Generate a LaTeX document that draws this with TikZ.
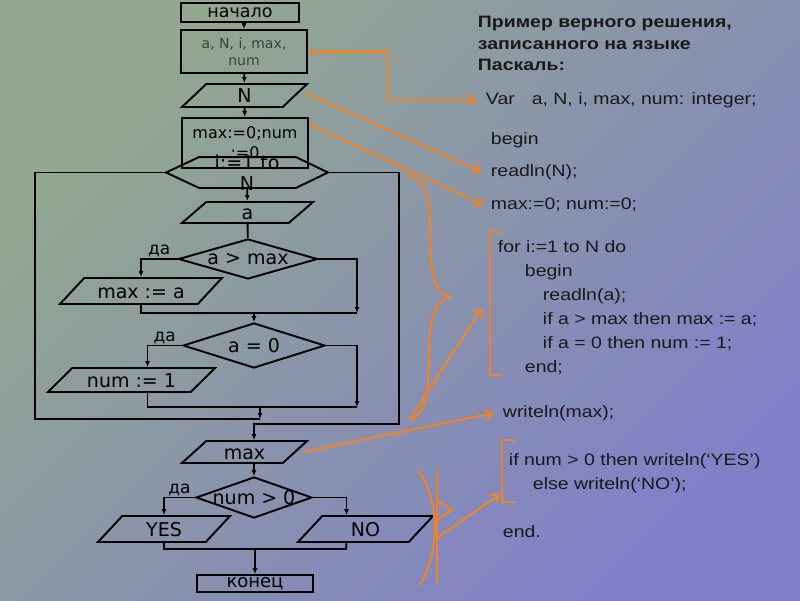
\documentclass[tikz,border=0pt]{standalone}
\usepackage{fontspec}
\setmainfont{DejaVu Sans}
\newfontfamily\codefont[FakeStretch=1.18]{Liberation Sans}
\usepackage{tikz}
\usetikzlibrary{shapes.geometric,arrows.meta,positioning}
\definecolor{bgtop}{RGB}{146,168,142}
\definecolor{bgbot}{RGB}{128,128,200}
\definecolor{pen}{RGB}{232,132,46}

\begin{document}
\begin{tikzpicture}[x=1pt, y=-1pt, line width=1.9pt,
  >={Latex[length=6pt,width=5pt]},
  font=\fontsize{19}{21}\selectfont,
  box/.style={draw, rectangle, inner sep=0pt, align=center},
  io/.style={draw, trapezium, trapezium left angle=30, trapezium right angle=150,
             trapezium stretches body, inner sep=0pt, text height=14pt, text depth=0pt},
  cond/.style={draw, diamond, inner sep=0pt},
  yes/.style={above, inner sep=1pt, font=\fontsize{17}{19}\selectfont},
  note/.style={draw=pen, line width=2.2pt, -{Straight Barb[length=7pt,width=11pt]}},
  code/.style={anchor=west, inner sep=0pt, align=left, text=black!90,
               font=\codefont\fontsize{16.5}{24}\selectfont}]
  \useasboundingbox (0,0) rectangle (800,600);
  \shade[top color=bgtop, bottom color=bgbot, shading angle=45] (0,0) rectangle (800,600);

  \node[box, minimum width=118pt, minimum height=19pt, text height=11pt, text depth=2pt,
        font=\fontsize{17.5}{19}\selectfont] (start) at (240,12.5) {начало};
  \node[box, minimum width=126pt, minimum height=43pt, text=black!75, font=\fontsize{14}{17}\selectfont] (vars) at (244,51.5) {a, N, i, max,\\num};
  \node[io, minimum width=125pt, minimum height=23pt] (inN) at (244.5,95.5) {N};
  \node[box, minimum width=126pt, minimum height=50pt, font=\fontsize{16}{20}\selectfont] (init) at (245,143) {max:=0;num\\:=0};
  \node[minimum width=160pt, minimum height=29pt, inner sep=0pt,
        label={[align=center]center:{i:=1 to\\N}}] (loop) at (247,172.5) {};
  \draw (loop.west) -- ([xshift=33pt]loop.north west) -- ([xshift=-32pt]loop.north east) -- (loop.east)
        -- ([xshift=-32pt]loop.south east) -- ([xshift=33pt]loop.south west) -- cycle;
  \node[io, minimum width=131pt, minimum height=21pt] (inA) at (247.5,212.5) {a};
  \node[cond, minimum width=139pt, minimum height=40pt, label=center:{a > max}] (if1) at (248,259) {};
  \node[io, minimum width=162pt, minimum height=26pt] (setMax) at (141,291) {max := a};
  \node[cond, minimum width=142pt, minimum height=45pt, label=center:{a = 0}] (if2) at (254,345.5) {};
  \node[io, minimum width=167pt, minimum height=24pt] (setNum) at (131.5,380) {num := 1};
  \node[io, minimum width=125pt, minimum height=22pt] (outMax) at (244.5,452) {max};
  \node[cond, minimum width=116pt, minimum height=41pt, label=center:{num > 0}] (if3) at (254,497.5) {};
  \node[io, minimum width=132pt, minimum height=26pt] (outYes) at (164,529) {YES};
  \node[io, minimum width=135pt, minimum height=26pt] (outNo) at (365.5,529) {NO};
  \node[box, minimum width=116pt, minimum height=17pt, text height=11pt, text depth=3pt,
        font=\fontsize{18}{19}\selectfont] (stop) at (255,583.5) {конец};

  \coordinate (j1) at (254,313);
  \coordinate (j1r) at (357,313);
  \coordinate (j2) at (260,407);
  \coordinate (j2r) at (357,407);
  \coordinate (lpB) at (260,419);
  \coordinate (lpL) at (35,300);
  \coordinate (exR) at (399,300);
  \coordinate (exB) at (254,424);
  \coordinate (j3) at (255,549);
  \coordinate (j3r) at (346,549);

  \path[->] (start.south -| vars.north) edge (vars.north)
            (vars) edge (inN)
            (inN) edge (init)
            (loop) edge (inA)
            (j1) edge (if2.north)
            (j2) edge (lpB)
            (outMax.south -| if3.north) edge (if3.north)
            (j3) edge (stop);
  \draw (inA) -- (if1);
  \draw[->] (if1.west) -| node[yes, pos=0.25] {да} (setMax.north);
  \draw[->] (if1.east) -| (j1r);
  \draw (setMax.south) |- (j1r);
  \draw[->] (if2.west) -| node[yes, pos=0.25] {да} ([xshift=16pt]setNum.north);
  \draw[->] (if2.east) -| (j2r);
  \draw ([xshift=16pt]setNum.south) |- (j2r);
  \draw (lpB) -| (lpL) |- (loop.west);
  \draw[->] (loop.east) -| (exR) |- (exB) -- (exB |- outMax.north);
  \draw[->] (if3.west) -| node[yes, pos=0.25] {да} (outYes.north);
  \draw[->] (if3.east) -| ([xshift=-19pt]outNo.north);
  \draw (outYes.south) |- (j3r) -- ([xshift=-19pt]outNo.south);

  \node[code, font=\codefont\bfseries\fontsize{16.5}{21.5}\selectfont] (tHead) at (477,43.5)
       {Пример верного решения,\\записанного на языке\\Паскаль:};
  \node[code] (tVar) at (485,100) {Var\hspace{17pt}a, N, i, max, num: integer;};
  \node[code] (tBegin) at (490,140) {begin};
  \node[code] (tReadN) at (490,172) {readln(N);};
  \node[code] (tInit) at (490,205) {max:=0; num:=0;};
  \node[code] (tFor) at (497,308) {for i:=1 to N do\\
        \hspace*{27pt}begin\\
        \hspace*{45pt}readln(a);\\
        \hspace*{45pt}if a > max then max := a;\\
        \hspace*{45pt}if a = 0 then num := 1;\\
        \hspace*{27pt}end;};
  \node[code] (tWrite) at (502,413) {writeln(max);};
  \node[code] (tIf) at (508,473.5) {if num > 0 then writeln(‘YES’)\\
        \hspace*{24pt}else writeln(‘NO’);};
  \node[code] (tEnd) at (502,532) {end.};

  \coordinate (kVar) at (388,75);
  \coordinate (braceEnd) at (410,419);
  \coordinate (tickEnd) at (437,538);
  \draw[note] (vars.east) -| (kVar) |- ([xshift=-8pt]tVar.west);
  \draw[note] ([xshift=10pt,yshift=2pt]inN.east) -- ([xshift=-8pt]tReadN.west);
  \draw[note] ([yshift=-7pt]init.north east) -- ([xshift=-6pt]tInit.west);
  \draw[note, -] (408,175) .. controls (428,180) and (430,200) .. (430,240)
        .. controls (430,285) and (440,295) .. (450,297)
        .. controls (437,300) and (429,315) .. (429,350)
        .. controls (429,395) and (425,415) .. (410,420);
  \draw[note] (braceEnd) -- ([xshift=-15pt]tFor.west);
  \draw[note] ([xshift=7pt]outMax.east) -- ([xshift=-8pt]tWrite.west);
  \draw[note, -] (502,232) -| (490,375) -- (502,375);
  \draw[note, -] (515,440) -| (502,502) -- (515,502);
  \draw[note, -] (418,470) .. controls (440,500) and (440,550) .. (420,585);
  \draw[note, -] (437,470) -- (437,583);
  \draw[note, -] (437,500) -- (452,510) -- (437,520);
  \draw[note] (tickEnd) -- ([xshift=-8pt]tIf.south west);
\end{tikzpicture}
\end{document}
